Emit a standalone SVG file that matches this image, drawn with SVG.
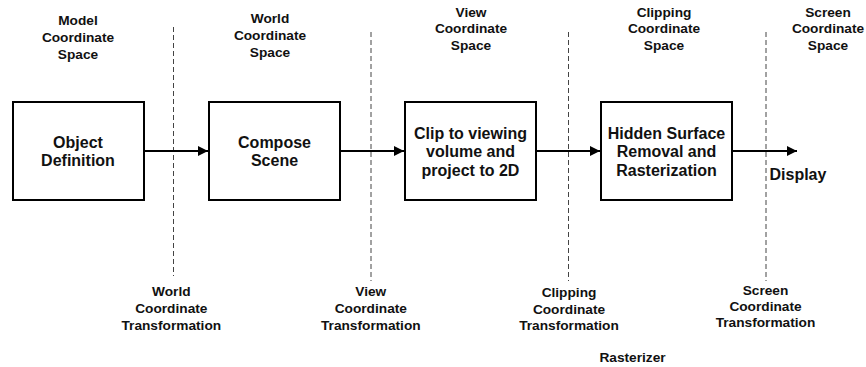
<svg xmlns="http://www.w3.org/2000/svg" width="866" height="367" viewBox="0 0 866 367">
<defs>
<style>
.box{fill:#fff;stroke:#000;stroke-width:2}
.bt{font-family:"Liberation Sans",Arial,sans-serif;font-weight:bold;font-size:16px;fill:#111;text-anchor:middle}
.lt{font-family:"Liberation Sans",Arial,sans-serif;font-weight:bold;font-size:13.7px;fill:#111;text-anchor:middle}
.div{stroke:#444;stroke-width:1;stroke-dasharray:5,3;fill:none}
.conn{stroke:#000;stroke-width:2;fill:none}
</style>
<marker id="ah" markerWidth="10" markerHeight="10" refX="10" refY="5" orient="auto" markerUnits="userSpaceOnUse">
<path d="M0,0 L10,5 L0,10 Z" fill="#000"/>
</marker>
</defs>
<rect width="866" height="367" fill="#fff"/>
<g id="dividers">
<line class="div" x1="173.5" y1="27" x2="173.5" y2="276"/>
<line class="div" x1="371" y1="32" x2="371" y2="281"/>
<line class="div" x1="568.5" y1="32" x2="568.5" y2="281"/>
<line class="div" x1="766" y1="32" x2="766" y2="281"/>
</g>
<g id="connectors">
<line class="conn" x1="144" y1="151" x2="208" y2="151" marker-end="url(#ah)"/>
<line class="conn" x1="340" y1="151" x2="404" y2="151" marker-end="url(#ah)"/>
<line class="conn" x1="536" y1="151" x2="600" y2="151" marker-end="url(#ah)"/>
<line class="conn" x1="732" y1="151" x2="797" y2="151" marker-end="url(#ah)"/>
</g>
<g id="node-object">
<rect class="box" x="13" y="102" width="131" height="98"/>
<text class="bt" x="78" y="147.5">Object</text>
<text class="bt" x="78" y="166">Definition</text>
</g>
<g id="node-compose">
<rect class="box" x="209" y="102" width="131" height="98"/>
<text class="bt" x="274.5" y="147.5">Compose</text>
<text class="bt" x="274.5" y="166">Scene</text>
</g>
<g id="node-clip">
<rect class="box" x="405" y="102" width="131" height="98"/>
<text class="bt" x="470.5" y="138.5">Clip to viewing</text>
<text class="bt" x="470.5" y="157">volume and</text>
<text class="bt" x="470.5" y="175.5">project to 2D</text>
</g>
<g id="node-hidden">
<rect class="box" x="601" y="102" width="131" height="98"/>
<text class="bt" x="666.5" y="138.5">Hidden Surface</text>
<text class="bt" x="666.5" y="157">Removal and</text>
<text class="bt" x="666.5" y="175.5">Rasterization</text>
</g>
<g id="node-display">
<text class="bt" x="769.5" y="179.5" style="text-anchor:start">Display</text>
</g>
<g id="space-labels">
<text class="lt" x="78" y="25.3">Model</text>
<text class="lt" x="78" y="42">Coordinate</text>
<text class="lt" x="78" y="58.5">Space</text>
<text class="lt" x="270" y="23.3">World</text>
<text class="lt" x="270" y="40">Coordinate</text>
<text class="lt" x="270" y="56.5">Space</text>
<text class="lt" x="471" y="16.5">View</text>
<text class="lt" x="471" y="33">Coordinate</text>
<text class="lt" x="471" y="49.5">Space</text>
<text class="lt" x="664" y="16.5">Clipping</text>
<text class="lt" x="664" y="33">Coordinate</text>
<text class="lt" x="664" y="49.5">Space</text>
<text class="lt" x="828" y="16.5">Screen</text>
<text class="lt" x="828" y="33">Coordinate</text>
<text class="lt" x="828" y="49.5">Space</text>
</g>
<g id="transform-labels">
<text class="lt" x="171.3" y="296">World</text>
<text class="lt" x="171.3" y="313">Coordinate</text>
<text class="lt" x="171.3" y="330">Transformation</text>
<text class="lt" x="370.8" y="296">View</text>
<text class="lt" x="370.8" y="313">Coordinate</text>
<text class="lt" x="370.8" y="330">Transformation</text>
<text class="lt" x="569" y="297">Clipping</text>
<text class="lt" x="569" y="313.5">Coordinate</text>
<text class="lt" x="569" y="330">Transformation</text>
<text class="lt" x="765.5" y="295">Screen</text>
<text class="lt" x="765.5" y="311">Coordinate</text>
<text class="lt" x="765.5" y="327">Transformation</text>
<text class="lt" x="632.5" y="361.5">Rasterizer</text>
</g>
</svg>
